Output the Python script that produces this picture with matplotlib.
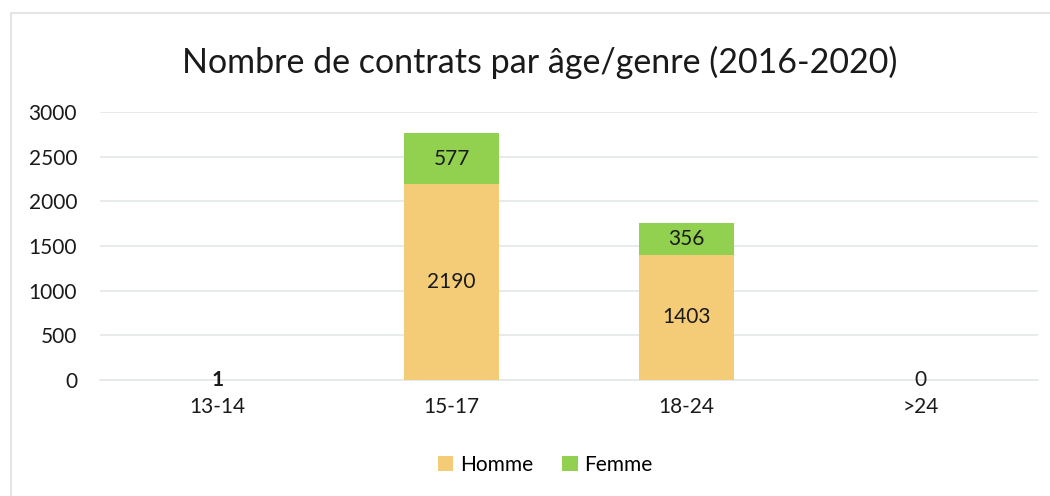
import matplotlib
matplotlib.use("Agg")
import matplotlib.pyplot as plt
from matplotlib.patches import Patch
from matplotlib.lines import Line2D

categories = ["13-14", "15-17", "18-24", ">24"]
homme = [1, 2190, 1403, 0]
femme = [0, 577, 356, 0]
title = "Nombre de contrats par âge/genre (2016-2020)"
yticks = [0, 500, 1000, 1500, 2000, 2500, 3000]

c_h = "#F4CC78"
c_f = "#92D050"
grid_c = "#E4E8E8"
txt_c = "#1a1a1a"
fs = 15

plt.rcParams['font.family'] = ['Lato', 'DejaVu Sans']

fig = plt.figure(figsize=(10.5, 4.96), dpi=100)
ax = fig.add_axes([100/1050, 116/496, 938/1050, 268/496])

x = list(range(len(categories)))
w = 0.405
ax.bar(x, homme, width=w, color=c_h, zorder=3)
ax.bar(x, femme, width=w, bottom=homme, color=c_f, zorder=3)

for i in x:
    h, f = homme[i], femme[i]
    if h > 100:
        ax.text(i, h / 2, str(h), ha='center', va='center', fontsize=fs, color=txt_c, zorder=4)
    else:
        ax.text(i, h, str(h), ha='center', va='center', fontsize=fs, color=txt_c, zorder=4,
                fontweight='bold' if h > 0 else 'normal')
    if f > 0:
        ax.text(i, h + f / 2, str(f), ha='center', va='center', fontsize=fs, color=txt_c, zorder=4)

ax.set_xlim(-0.5, len(categories) - 0.5)
ax.set_ylim(0, 3000)
ax.set_yticks(yticks)
ax.set_yticklabels([str(v) for v in yticks], fontsize=fs, color=txt_c)
ax.set_xticks(x)
ax.set_xticklabels(categories, fontsize=fs, color=txt_c)
ax.tick_params(axis='both', length=0)
ax.tick_params(axis='y', pad=16.5)
ax.tick_params(axis='x', pad=12)
for s in ['top', 'right', 'left']:
    ax.spines[s].set_visible(False)
ax.spines['bottom'].set_color(grid_c)
ax.spines['bottom'].set_linewidth(1.2)
ax.grid(axis='y', color=grid_c, linewidth=1.2, zorder=0)
ax.set_axisbelow(True)

fig.text(540/1050, 1 - 62/496, title, ha='center', va='center', fontsize=24.5, color=txt_c)

handles = [Patch(facecolor=c_h, label="Homme"), Patch(facecolor=c_f, label="Femme")]
fig.legend(handles=handles, loc='center', bbox_to_anchor=(545/1050, 1 - 465/496), ncol=2,
           frameon=False, fontsize=fs, handlelength=0.75, handleheight=0.75,
           handletextpad=0.3, columnspacing=1.4)

# outer chart border (left and top visible)
fig.add_artist(Line2D([11/1050, 11/1050], [0, 1 - 13/496], transform=fig.transFigure,
                      color="#E4E6E6", linewidth=1.5))
fig.add_artist(Line2D([11/1050, 1], [1 - 13/496, 1 - 13/496], transform=fig.transFigure,
                      color="#E4E6E6", linewidth=1.5))

fig.savefig("out.png", dpi=100, facecolor='white')
